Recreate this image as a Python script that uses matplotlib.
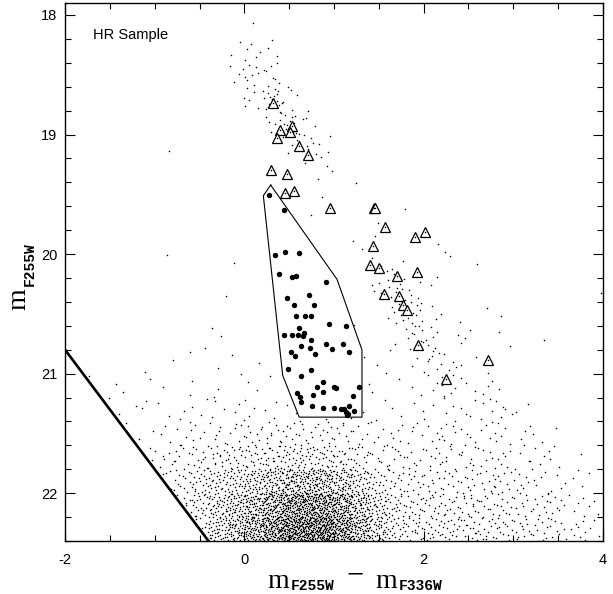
import numpy as np
import matplotlib
matplotlib.use("Agg")
import matplotlib.pyplot as plt
from matplotlib.path import Path
from matplotlib.ticker import MultipleLocator, FixedLocator
from matplotlib.transforms import IdentityTransform

plt.rcParams["axes.unicode_minus"] = False
plt.rcParams["font.family"] = ["Liberation Sans", "DejaVu Sans"]

# ---------------------------------------------------------------
# Field population: number of stars per 0.2 x 0.2 mag cell of the CMD
# (colour m255-m336 from -2.0, magnitude m255 from 18.0)
# each row: (first non-empty colour column, counts from that column on)
# ---------------------------------------------------------------
CELL = 0.2
color_min = -2.0
mag_min = 18.0
field_rows = [
    (10, [1]),                                                        # 18.0-18.2
    (9, [2, 5, 3]),                                                   # 18.2-18.4
    (9, [4, 7, 8]),                                                   # 18.4-18.6
    (9, [1, 5, 15, 6]),                                               # 18.6-18.8
    (11, [6, 14, 5]),                                                 # 18.8-19.0
    (5, [1, 0, 0, 0, 0, 0, 0, 4, 10, 4]),                             # 19.0-19.2
    (13, [1, 3]),                                                     # 19.2-19.4
    (14, [2, 0, 1]),                                                  # 19.4-19.6
    (13, [1, 0, 0, 0, 1, 1]),                                         # 19.6-19.8
    (16, [2, 1, 0, 0, 1, 1]),                                         # 19.8-20.0
    (5, [1, 0, 0, 0, 1, 0, 0, 0, 0, 0, 0, 0, 3, 3, 0, 1, 1, 1]),      # 20.0-20.2
    (9, [1, 0, 0, 0, 0, 0, 0, 0, 5, 12, 4, 1,
         0, 0, 0, 0, 0, 0, 0, 0, 1]),                                 # 20.2-20.4
    (16, [1, 0, 8, 12, 3, 0, 1, 1, 1]),                               # 20.4-20.6
    (7, [1, 2, 0, 0, 0, 0, 0, 0, 0, 0, 0,
         1, 10, 6, 1, 3, 0, 2, 0, 1]),                                # 20.6-20.8
    (4, [1, 0, 2, 0, 1, 1, 1, 0, 0, 0, 0, 0,
         1, 2, 1, 2, 8, 4, 2, 1]),                                    # 20.8-21.0
    (1, [1, 1, 1, 1, 1, 1, 1, 2, 1, 2, 1, 0, 0, 0, 0,
         1, 1, 1, 2, 4, 6, 3, 3, 1]),                                 # 21.0-21.2
    (2, [1, 2, 2, 2, 2, 3, 3, 3, 3, 3, 2, 1, 1, 1, 1,
         2, 2, 2, 2, 4, 4, 4, 5, 2]),                                 # 21.2-21.4
    (3, [1, 2, 3, 4, 5, 6, 7, 8, 9, 9, 9, 9, 8, 6,
         5, 5, 5, 5, 6, 5, 5, 5, 3, 2, 1]),                           # 21.4-21.6
    (4, [2, 6, 9, 12, 14, 16, 18, 20, 22, 22, 21, 18, 13,
         9, 8, 7, 7, 7, 7, 7, 6, 5, 4, 3, 1]),                        # 21.6-21.8
    (5, [4, 12, 20, 26, 32, 40, 50, 60, 65, 62, 50, 32,
         18, 12, 11, 10, 10, 10, 9, 8, 7, 6, 4, 3, 1]),               # 21.8-22.0
    (6, [6, 22, 36, 50, 66, 88, 110, 120, 112, 90, 60, 34,
         19, 15, 14, 13, 13, 12, 11, 10, 9, 7, 5, 3]),                # 22.0-22.2
    (7, [8, 40, 60, 85, 115, 145, 160, 150, 115, 75, 42,
         22, 17, 17, 16, 15, 14, 13, 12, 11, 9, 7, 4]),               # 22.2-22.4
]

# HR sample inside the selection box (filled circles)
hr_color = [0.279, 0.446, 0.339, 0.454, 0.606, 0.390, 0.528, 0.573, 0.914, 0.472,
            0.721, 0.557, 0.773, 0.573, 0.673, 0.747, 0.944, 1.134, 0.443, 0.535,
            0.613, 0.602, 0.669, 0.651, 0.740, 0.635, 0.732, 0.792, 0.521, 0.565,
            0.914, 0.974, 1.097, 1.164, 0.484, 0.744, 0.629, 0.874, 0.807, 0.997,
            1.026, 0.877, 0.587, 0.621, 0.766, 1.279, 1.208, 0.632, 0.755, 0.877,
            0.997, 1.081, 1.171, 1.219, 1.130, 1.160, 1.145, 1.115]
hr_mag = [19.504, 19.632, 20.008, 19.983, 19.995, 20.167, 20.193, 20.184, 20.234, 20.368,
          20.346, 20.422, 20.424, 20.514, 20.514, 20.522, 20.586, 20.600, 20.678, 20.673,
          20.619, 20.681, 20.664, 20.689, 20.720, 20.773, 20.782, 20.832, 20.823, 20.854,
          20.753, 20.795, 20.753, 20.818, 20.962, 20.968, 21.021, 21.069, 21.113, 21.110,
          21.121, 21.152, 21.163, 21.194, 21.175, 21.108, 21.186, 21.236, 21.269, 21.286,
          21.286, 21.295, 21.267, 21.311, 21.317, 21.334, 21.345, 21.300]

# bright giants (open triangles)
tri_color = [0.320, 0.532, 0.398, 0.506, 0.361, 0.613, 0.713, 0.294, 0.479, 0.457,
             0.557, 0.955, 1.443, 1.455, 1.572, 1.906, 2.018, 1.438, 1.398, 1.498,
             1.706, 1.929, 1.557, 1.728, 1.770, 1.815, 1.940, 2.713, 2.245]
tri_mag = [18.737, 18.925, 18.961, 18.977, 19.025, 19.092, 19.170, 19.295, 19.331, 19.490,
           19.476, 19.615, 19.618, 19.612, 19.777, 19.855, 19.813, 19.936, 20.095, 20.117,
           20.187, 20.151, 20.335, 20.351, 20.425, 20.472, 20.759, 20.885, 21.049]

# selection box of the HR sample
box_color = [0.294, 0.212, 0.428, 0.612, 1.312, 1.312, 1.034, 0.294]
box_mag = [19.423, 19.512, 21.016, 21.364, 21.364, 20.802, 20.212, 19.423]

# F336W completeness limit: m336 = m255 - (m255 - m336)
m336_limit = 22.8


def radical_inverse(i, base):
    f, r = 1.0, 0.0
    while i > 0:
        f /= base
        r += f * (i % base)
        i //= base
    return r


box_path = Path(np.column_stack([box_color, box_mag]))

# spread each cell's stars evenly (Halton points) over the part of the
# cell that lies above the completeness limit and outside the box
fx, fy = [], []
seq = 1
for j, (c0, counts) in enumerate(field_rows):
    y_lo = mag_min + j * CELL
    for k, n in enumerate(counts):
        x_lo = color_min + (c0 + k) * CELL
        got, tries = 0, 0
        while got < n and tries < 80 * n + 80:
            u = radical_inverse(seq, 2)
            v = radical_inverse(seq, 3)
            seq += 1
            tries += 1
            x = x_lo + u * CELL
            y = y_lo + v * CELL
            if y > x + m336_limit:
                continue
            if box_path.contains_point((x, y)):
                continue
            fx.append(x)
            fy.append(y)
            got += 1

W, H = 613, 594
fig = plt.figure(figsize=(W / 100, H / 100), dpi=100)
ax = fig.add_axes([65 / W, 1 - 541 / H, 538 / W, 538 / H])

ax.plot(fx, fy, linestyle="none", marker="o", ms=1.1, mew=0, color="black")
ax.axline((0.0, m336_limit), slope=1.0, color="black", lw=1.9)
ax.plot(box_color, box_mag, color="black", lw=0.8)
ax.plot(tri_color, tri_mag, linestyle="none", marker="^", ms=6.5,
        mfc="white", mec="black", mew=0.9)
ax.plot(tri_color, tri_mag, linestyle="none", marker="o", ms=1.1, mew=0,
        color="black")
ax.plot(hr_color, hr_mag, linestyle="none", marker="o", ms=3.9, mew=0,
        color="black")

ax.set_xlim(-2, 4)
ax.set_ylim(22.4, 17.9)
ax.xaxis.set_major_locator(FixedLocator([-2, 0, 2, 4]))
ax.xaxis.set_minor_locator(MultipleLocator(0.5))
ax.yaxis.set_major_locator(MultipleLocator(1))
ax.yaxis.set_minor_locator(MultipleLocator(0.2))
ax.tick_params(which="both", direction="in", top=True, right=True,
               width=0.8, labelsize=10.5)
ax.tick_params(which="major", length=7)
ax.tick_params(which="minor", length=4)
ax.tick_params(axis="x", pad=8.5)
ax.tick_params(axis="y", pad=5.5)
for s in ax.spines.values():
    s.set_linewidth(1.0)

ax.text(0.0515, 0.933, "HR Sample", transform=ax.transAxes, fontsize=10.5,
        ha="left", va="baseline")

# ---- axis labels built from pieces (serif m, bold mono filter names) ----
serif = dict(family=["Liberation Serif", "DejaVu Serif"], size=20)
dash = dict(family=["Liberation Serif", "DejaVu Serif"], size=22)
mono = dict(family=["Liberation Mono", "DejaVu Sans Mono"], size=10.5,
            weight="bold")
renderer = fig.canvas.get_renderer()


def build_label(x0, y0, pieces, rotation=0):
    """pieces: (text, font, drop, gap) drawn one after another from (x0, y0),
    given in pixels from the lower left corner of the figure."""
    adv = 0.0
    for txt, font, drop, gap in pieces:
        if rotation == 0:
            pos = (x0 + adv, y0 - drop)
        else:
            pos = (x0 + drop, y0 + adv)
        t = fig.text(pos[0], pos[1], txt, transform=IdentityTransform(),
                     rotation=rotation, rotation_mode="anchor",
                     ha="left", va="baseline", **font)
        bb = t.get_window_extent(renderer)
        adv += (bb.width if rotation == 0 else bb.height) + gap


build_label(267, H - 588,
            [("m", serif, 0, 2), ("F255W", mono, 2, 12),
             ("\u2212", dash, -5, 12), ("m", serif, 0, 1), ("F336W", mono, 2, 0)])
build_label(25, H - 310,
            [("m", serif, 0, 2), ("F255W", mono, 9, 0)], rotation=90)

fig.savefig("out.png", dpi=100)
